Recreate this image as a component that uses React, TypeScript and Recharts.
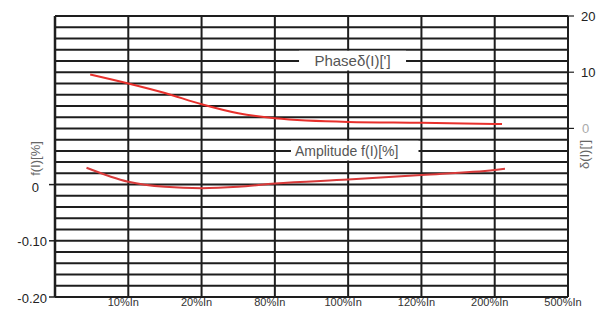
import React from 'react';
import {
  ComposedChart,
  Line,
  XAxis,
  YAxis,
  CartesianGrid,
  ReferenceArea,
} from 'recharts';

// x categories (positions 1..7 on the x axis)
const xTicks = [1, 2, 3, 4, 5, 6, 7];
const xTickLabels = ['10%In', '20%In', '80%In', '100%In', '120%In', '200%In', '500%In'];

// left axis (amplitude f(I) [%]) grid levels and labelled ticks
const ampGridTicks = [
  -0.2, -0.18, -0.16, -0.14, -0.12, -0.1, -0.08, -0.06, -0.04, -0.02, 0,
  0.02, 0.04, 0.06, 0.08, 0.1, 0.12, 0.14, 0.16, 0.18, 0.2, 0.22, 0.24, 0.26, 0.28, 0.3,
];
const ampLabelled = [-0.2, -0.1, 0];
const ampLabelText = ['-0.20', '-0.10', '0'];

// right axis (phase δ(I) [']) ticks
const phaseTicks = [0, 10, 20];

// Phase series (right axis)
const phaseX = [0.48, 1.0, 1.5, 2.0, 2.5, 3.0, 4.0, 5.0, 6.0, 6.1];
const phaseValues = [9.6, 8.0, 6.3, 4.3, 2.7, 1.8, 1.15, 1.0, 0.8, 0.78];

// Amplitude series (left axis)
const ampX = [0.43, 1.0, 1.5, 2.0, 2.5, 3.0, 4.0, 5.0, 6.0, 6.14];
const ampValues = [0.03, 0.005, -0.004, -0.0065, -0.004, 0.002, 0.009, 0.017, 0.026, 0.028];

const phaseData = phaseX.map((x, i) => ({ x, v: phaseValues[i] }));
const ampData = ampX.map((x, i) => ({ x, v: ampValues[i] }));

const RED = '#e8302c';
const GRID = '#1e1e1e';

const LeftTick = (props: any) => {
  const { x, y, payload } = props;
  const idx = ampLabelled.findIndex((v) => Math.abs(v - payload.value) < 1e-9);
  if (idx < 0) return <g />;
  const isZero = payload.value === 0;
  return (
    <g>
      <line x1={x + 2} y1={y} x2={x + 8} y2={y} stroke={GRID} strokeWidth={1.5} />
      <text
        x={isZero ? x - 8 : x}
        y={y + (isZero ? 3 : 1)}
        textAnchor="end"
        dominantBaseline="central"
        fontSize={13}
        fill="#222"
      >
        {ampLabelText[idx]}
      </text>
    </g>
  );
};

const RightTick = (props: any) => {
  const { x, y, payload } = props;
  return (
    <g>
      <line x1={x - 7} y1={y} x2={x - 1} y2={y} stroke={GRID} strokeWidth={1.2} />
      <text
        x={x + (payload.value === 0 ? 7 : 6)}
        y={y}
        textAnchor="start"
        dominantBaseline="central"
        fontSize={13}
        fill={payload.value === 0 ? '#aaa' : '#222'}
      >
        {payload.value}
      </text>
    </g>
  );
};

export default function App() {
  return (
    <div style={{ position: 'absolute', left: 0, top: 0, background: '#fff' }}>
      <ComposedChart
        width={599}
        height={309}
        margin={{ top: 16, right: 0, bottom: 0, left: 0 }}
        style={{ fontFamily: '"Liberation Sans", Arial, sans-serif' }}
      >
        <CartesianGrid
          yAxisId="left"
          xAxisId="x"
          stroke={GRID}
          strokeWidth={2}
          strokeOpacity={1}
        />
        <XAxis
          xAxisId="x"
          dataKey="x"
          type="number"
          domain={[0, 7]}
          ticks={xTicks}
          tickFormatter={(v: number) => xTickLabels[v - 1]}
          height={12}
          tickLine={false}
          tickSize={0}
          tickMargin={1}
          axisLine={{ stroke: GRID, strokeWidth: 2 }}
          tick={{ fontSize: 11, fill: '#333', dx: -5 }}
          interval={0}
          allowDataOverflow
        />
        <YAxis
          yAxisId="left"
          orientation="left"
          type="number"
          domain={[-0.2, 0.3]}
          ticks={ampGridTicks}
          interval={0}
          width={55}
          tickLine={false}
          tickSize={6}
          tickMargin={2}
          axisLine={{ stroke: GRID, strokeWidth: 2.5 }}
          tick={<LeftTick />}
          label={{
            content: (p: any) => {
              const vb = p.viewBox;
              const cx = vb.x + 35;
              const cy = vb.y + vb.height / 2 + 2;
              return (
                <text
                  x={cx}
                  y={cy}
                  transform={`rotate(-90 ${cx} ${cy})`}
                  textAnchor="middle"
                  dominantBaseline="central"
                  fontSize={13}
                  fill="#666"
                >
                  f(I)[%]
                </text>
              );
            },
          }}
          allowDataOverflow
        />
        <YAxis
          yAxisId="right"
          orientation="right"
          type="number"
          domain={[-30, 20]}
          ticks={phaseTicks}
          interval={0}
          width={31}
          tickLine={false}
          tickSize={7}
          tickMargin={0}
          axisLine={{ stroke: GRID, strokeWidth: 2 }}
          tick={<RightTick />}
          label={{
            content: (p: any) => {
              const vb = p.viewBox;
              const cx = vb.x + 16;
              const cy = vb.y + vb.height / 2 - 2;
              return (
                <text
                  x={cx}
                  y={cy}
                  transform={`rotate(-90 ${cx} ${cy})`}
                  textAnchor="middle"
                  dominantBaseline="central"
                  fontSize={13}
                  fill="#666"
                >
                  δ(I)[']
                </text>
              );
            },
          }}
          allowDataOverflow
        />
        <ReferenceArea
          xAxisId="x"
          yAxisId="left"
          x1={3.33}
          x2={4.79}
          y1={0.203}
          y2={0.238}
          fill="#fff"
          fillOpacity={1}
          stroke="none"
          label={{ value: "Phaseδ(I)[']", position: 'center', fill: '#555', fontSize: 15 }}
        />
        <ReferenceArea
          xAxisId="x"
          yAxisId="left"
          x1={3.22}
          x2={4.96}
          y1={0.043}
          y2={0.078}
          fill="#fff"
          fillOpacity={1}
          stroke="none"
          label={{ value: 'Amplitude f(I)[%]', position: 'insideLeft', offset: 4, fill: '#555', fontSize: 14 }}
        />
        <Line
          xAxisId="x"
          yAxisId="right"
          data={phaseData}
          dataKey="v"
          type="monotone"
          stroke={RED}
          strokeWidth={2}
          dot={false}
          isAnimationActive={false}
        />
        <Line
          xAxisId="x"
          yAxisId="left"
          data={ampData}
          dataKey="v"
          type="monotone"
          stroke="#d83a3a"
          strokeWidth={2}
          dot={false}
          isAnimationActive={false}
        />
      </ComposedChart>
    </div>
  );
}
